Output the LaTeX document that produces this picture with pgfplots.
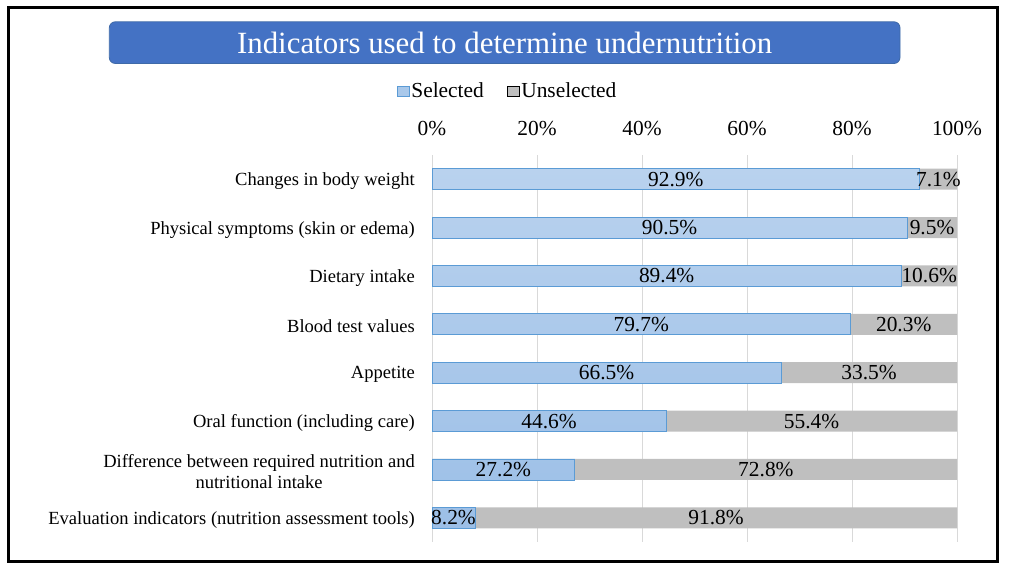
\documentclass[border=0pt]{standalone}
\usepackage{fontspec}
\setmainfont{Liberation Serif}
\usepackage{pgfplots}
\usepackage{pgfplotstable}
\pgfplotsset{compat=1.18}
\definecolor{titleblue}{HTML}{4472C4}
\definecolor{titleedge}{HTML}{3F6AA8}
\definecolor{seltop}{HTML}{B9D2EE}
\definecolor{selbot}{HTML}{9CBFE7}
\definecolor{selfill}{HTML}{A9C8EA}
\definecolor{seledge}{HTML}{5B9BD5}
\definecolor{ungray}{HTML}{BFBFBF}
\definecolor{gridgray}{HTML}{D9D9D9}
\pgfplotstableread{
y sel unsel
0 92.9 7.1
1 90.5 9.5
2 89.4 10.6
3 79.7 20.3
4 66.5 33.5
5 44.6 55.4
6 27.2 72.8
7 8.2 91.8
}\datatable
\begin{document}
\begin{tikzpicture}
\path (0bp,0bp) rectangle (1009bp,571bp);
\draw[line width=2.5bp] (8.5bp,9.5bp) rectangle (997.5bp,563.5bp);
\node[fill=titleblue, draw=titleedge, line width=0.8bp, rounded corners=6bp,
      minimum width=790.7bp, minimum height=41.7bp, inner sep=0pt,
      text=white, font=\fontsize{31}{36}\selectfont]
      at (504.65bp,528.35bp) {Indicators used to determine undernutrition};
\begin{axis}[
  at={(432bp,29bp)}, anchor=south west,
  scale only axis, width=525bp, height=387bp,
  xmin=0, xmax=100, ymin=-0.5, ymax=7.5,
  y dir=reverse,
  clip=false,
  axis line style={draw=none},
  major tick length=0pt,
  xtick={0,20,40,60,80,100},
  xticklabel pos=upper,
  xticklabel={\pgfmathprintnumber{\tick}\%},
  xticklabel style={anchor=base, inner sep=0pt, yshift=20bp, font=\fontsize{21.5}{24}\selectfont},
  /pgf/number format/assume math mode=true,
  xmajorgrids,
  major grid style={gridgray, line width=1bp},
  ytick={0,1,2,3,4,5,6,7},
  yticklabels={Changes in body weight, Physical symptoms (skin or edema), Dietary intake, Blood test values, Appetite, Oral function (including care), {Difference between required nutrition and\\nutritional intake}, Evaluation indicators (nutrition assessment tools)},
  yticklabel style={align=center, anchor=east, inner sep=0pt, xshift=-17bp, yshift=-2bp, font=\fontsize{18.6}{21}\selectfont},
  legend image code/.code={\draw[#1] (0bp,-5bp) rectangle (12bp,5bp);},
  legend style={draw=none, fill=none, at={(0.1438,1.165)}, anchor=center,
    legend columns=2, font=\fontsize{21.5}{24}\selectfont,
    /tikz/every even column/.append style={column sep=21bp},
    nodes={inner sep=2bp}},
]
\addlegendimage{draw=seledge, fill=selfill, line width=0.8bp}
\addlegendentry{Selected}
\addlegendimage{draw=none, fill=ungray}
\addlegendentry{Unselected}
\addplot[xbar, bar width=21bp, bar shift=0pt, fill=ungray, draw=none, forget plot]
  table[x expr=\thisrow{sel}+\thisrow{unsel}, y=y] {\datatable};
\addplot[xbar, bar width=21bp, bar shift=0pt, draw=seledge, line width=0.8bp, top color=seltop, bottom color=selbot, forget plot]
  table[x=sel, y=y] {\datatable};
\addplot[only marks, mark=none, forget plot, point meta=\thisrow{sel},
  nodes near coords={\pgfmathprintnumber[fixed,fixed zerofill,precision=1]{\pgfplotspointmeta}\%},
  every node near coord/.append style={anchor=center, inner sep=0pt, text=black, font=\fontsize{21.5}{24}\selectfont}]
  table[x expr=\thisrow{sel}/2, y=y] {\datatable};
\addplot[only marks, mark=none, forget plot, point meta=\thisrow{unsel},
  nodes near coords={\pgfmathprintnumber[fixed,fixed zerofill,precision=1]{\pgfplotspointmeta}\%},
  every node near coord/.append style={anchor=center, inner sep=0pt, text=black, font=\fontsize{21.5}{24}\selectfont}]
  table[x expr=\thisrow{sel}+\thisrow{unsel}/2, y=y] {\datatable};
\end{axis}
\end{tikzpicture}
\end{document}
